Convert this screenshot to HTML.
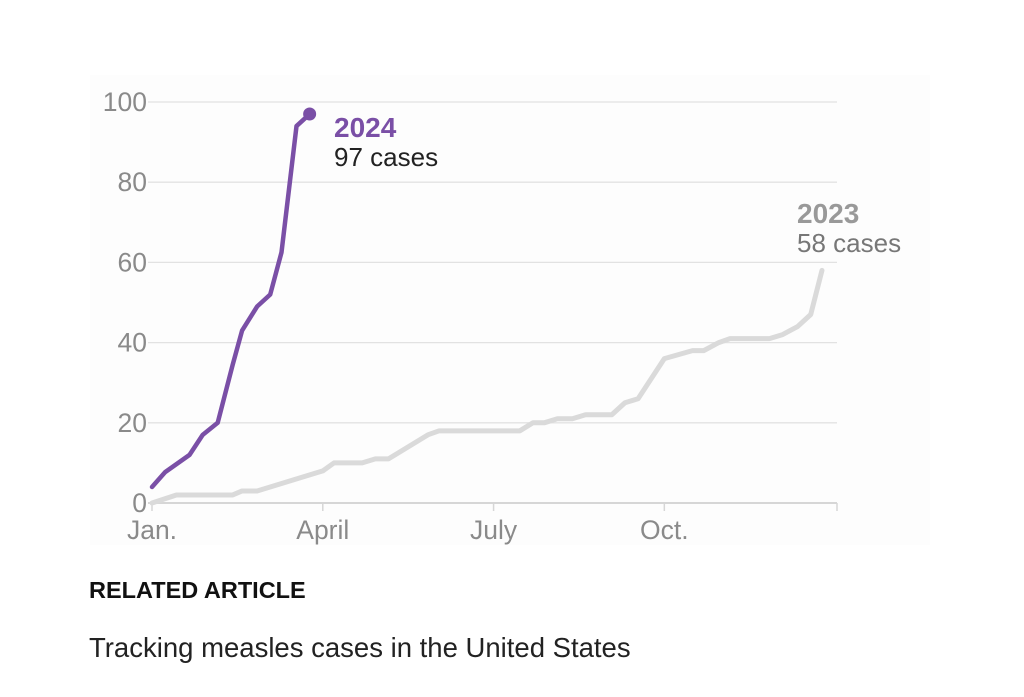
<!DOCTYPE html>
<html><head><meta charset="utf-8"><style>
body{margin:0;width:1024px;height:697px;background:#fff;font-family:"Liberation Sans",sans-serif;overflow:hidden;position:relative}
svg{position:absolute;left:0;top:0}
.t{position:absolute;white-space:nowrap}
</style></head><body>
<svg width="1024" height="697">
<rect x="90" y="75" width="840" height="470" fill="#fdfdfd"/>
<g id="grid"></g><g id="lines"></g>
</svg>
<div class="t" style="left:89px;top:577px;font-size:23.5px;font-weight:bold;color:#111">RELATED ARTICLE</div>
<div class="t" style="left:89px;top:632px;font-size:27.5px;color:#222">Tracking measles cases in the United States</div>
<script>
const yTicks=[0,20,40,60,80,100];
const xTickDays=[0,91,182,273,365];
const xTickLabels=["Jan.","April","July","Oct.",""];
const days2024=[0,7,20,27,35,43,48,56,63,69,77,84];
const cases2024=[4,7.7,12,17,20,34.5,43,49,52,62.5,94,97];
const days2023=[0,13,43,48,56,91,97,112,119,126,147,153,196,203,209,216,224,231,245,252,259,273,288,294,302,308,329,336,344,351,357];
const cases2023=[0,2,2,3,3,8,10,10,11,11,17,18,18,20,20,21,21,22,22,25,26,36,38,38,40,41,41,42,44,47,58];
const X=d=>152+d*(837-152)/365, Y=v=>503-v*4.01;
const NS="http://www.w3.org/2000/svg";
const grid=document.getElementById('grid'), lines=document.getElementById('lines');
function mk(tag,attrs,parent){const e=document.createElementNS(NS,tag);for(const k in attrs)e.setAttribute(k,attrs[k]);parent.appendChild(e);return e;}
yTicks.forEach(v=>{
 const l=mk('line',{x1:148,x2:837,y1:Y(v),y2:Y(v),stroke:v===0?'#d6d6d6':'#e2e2e2','stroke-width':v===0?2:1.3},grid);
 
 
 const t=mk('text',{x:147,y:Y(v)+9,'text-anchor':'end','font-size':26.5,fill:'#8a8a8a','font-family':'Liberation Sans'},grid);
 t.textContent=v;
 
 
});
xTickDays.forEach((d,i)=>{
 const tk=mk('line',{x1:X(d),x2:X(d),y1:503,y2:511,stroke:'#d6d6d6','stroke-width':1.5},grid);
 
 
 if(xTickLabels[i]){
 const t=mk('text',{x:X(d),y:539,'text-anchor':'middle','font-size':26.5,fill:'#8a8a8a','font-family':'Liberation Sans'},grid);
 t.textContent=xTickLabels[i];
 
 }
});
const p23=mk('polyline',{points:days2023.map((d,i)=>X(d)+','+Y(cases2023[i])).join(' '),fill:'none',stroke:'#dadada','stroke-width':5,'stroke-linejoin':'round','stroke-linecap':'round'},lines);


const p24=mk('polyline',{points:days2024.map((d,i)=>X(d)+','+Y(cases2024[i])).join(' '),fill:'none',stroke:'#7a4fa6','stroke-width':4.5,'stroke-linejoin':'round','stroke-linecap':'round'},lines);


const n=days2024.length-1;
const dot=mk('circle',{cx:X(days2024[n]),cy:Y(cases2024[n]),r:6.5,fill:'#7a4fa6'},lines);


function lbl(x,y,txt,size,wt,col,name){const t=mk('text',{x:x,y:y,'font-size':size,'font-weight':wt,fill:col,'font-family':'Liberation Sans'},lines);t.textContent=txt;

}
lbl(334,137,'2024',28,'bold','#7a4fa6','label-2024-year');
lbl(334,166,cases2024[n]+' cases',26,'normal','#222','label-2024-cases');
const m=days2023.length-1;
lbl(797,223,'2023',28,'bold','#999','label-2023-year');
lbl(797,252,cases2023[m]+' cases',26,'normal','#777','label-2023-cases');
</script>
</body></html>
